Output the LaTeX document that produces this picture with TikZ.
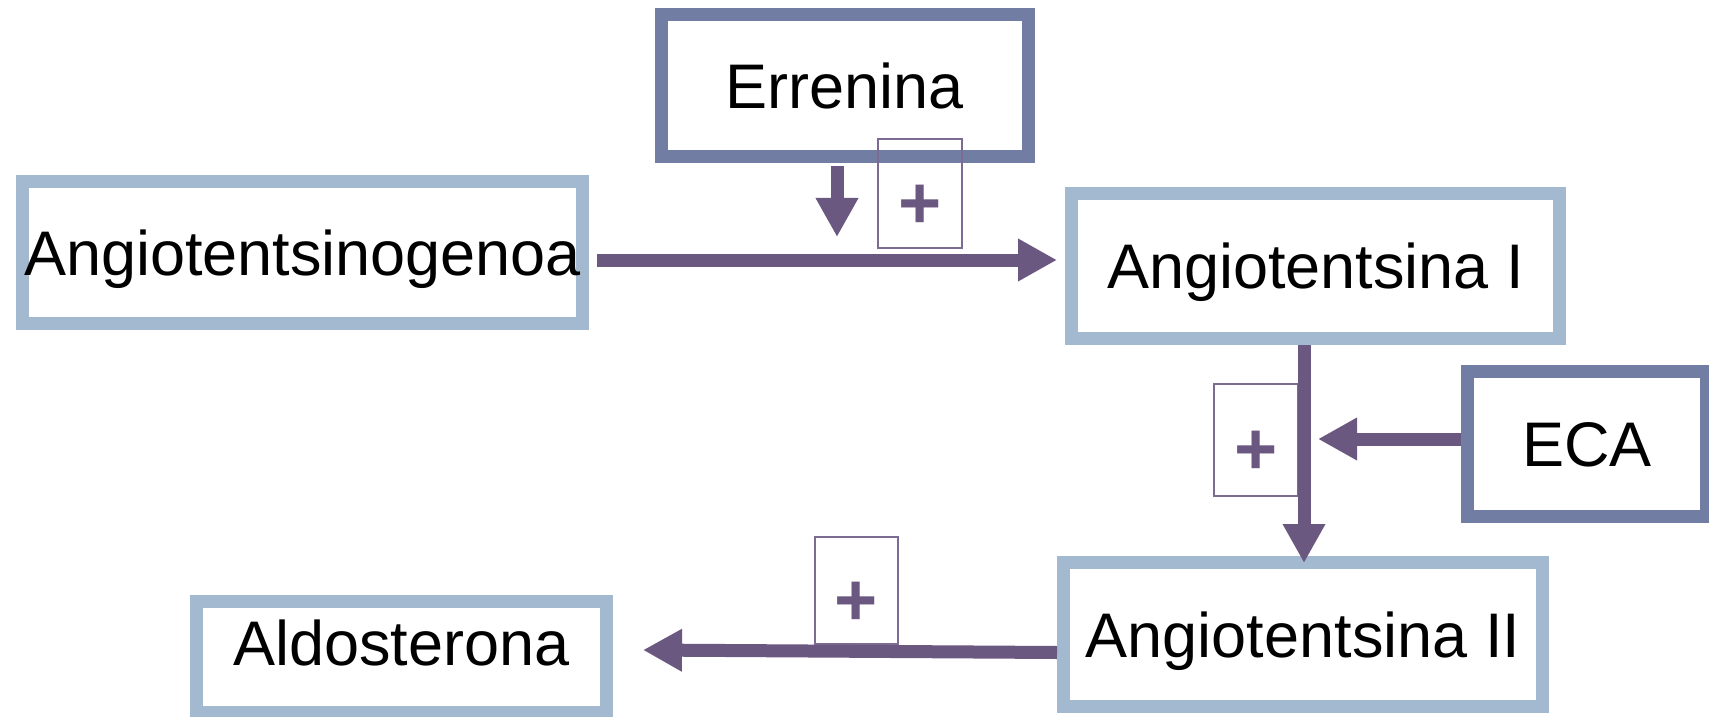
\documentclass[tikz,border=0pt]{standalone}
\usepackage{fontspec}
\setmainfont{Liberation Sans}
\usetikzlibrary{arrows.meta}
\definecolor{boxblue}{HTML}{A2B9CF}
\definecolor{boxslate}{HTML}{727DA3}
\definecolor{flow}{HTML}{6B5880}
\definecolor{plusline}{HTML}{7D6B93}
\begin{document}
\begin{tikzpicture}[x=0.5pt,y=-0.5pt,
  molbox/.style={draw=boxblue, line width=6.5pt, fill=white, inner sep=0pt,
    font=\fontsize{31.5pt}{36pt}\selectfont, text height=22.55pt, text depth=0pt},
  enzbox/.style={molbox, draw=boxslate},
  plusbox/.style={draw=plusline, line width=0.65pt, inner sep=0pt, text=flow,
    font=\bfseries\fontsize{37pt}{40pt}\selectfont, text height=34.9pt, text depth=0pt},
  flowarrow/.style={draw=flow, line width=6.5pt, -{Triangle[length=19.5pt,width=20pt]}},
]
\fill[white] (0,0) rectangle (1709,717);
\useasboundingbox (0,0) rectangle (1709,717);

% molecules and enzymes
\node[molbox, minimum width=280pt, minimum height=71pt] (ag) at (302.5,252.5) {Angiotentsinogenoa};
\node[enzbox, minimum width=183.5pt, minimum height=71pt] (er) at (845,85.5) {Errenina};
\node[molbox, minimum width=244pt, minimum height=72.5pt] (a1) at (1315.5,266) {Angiotentsina I};
\node[enzbox, minimum width=119.5pt, minimum height=72.5pt] (eca) at (1587,444) {ECA};
\node[molbox, minimum width=239.5pt, minimum height=72pt] (a2) at (1303,634.5) {Angiotentsina II};
\node[molbox, minimum width=205pt, minimum height=55.5pt, text depth=14pt] (al) at (401.5,657) {Aldosterona};

% activation marks
\node[plusbox, minimum width=42pt, minimum height=54.5pt] (p1) at (920,193.5) {+};
\node[plusbox, minimum width=42pt, minimum height=56pt] (p2) at (1256,440) {+};
\node[plusbox, minimum width=41.5pt, minimum height=53.5pt] (p3) at (856.5,590.5) {+};

% reaction arrows
\coordinate (m1) at ([shift={(8,7.5)}]ag.east);
\draw[flowarrow] (m1) -- ([xshift=-4pt]m1 -| a1.west);
\draw[flowarrow] ([shift={(-8,3)}]er.south) -- ++(0,71);

\coordinate (v1) at ([xshift=-5.75pt]a1.south);
\draw[flowarrow] (v1) -- ([yshift=-3.5pt]v1 |- a2.north);
\coordinate (e1) at ([yshift=2.5pt]eca.west);
\draw[flowarrow] (e1) -- ([xshift=7pt]v1 |- e1);

\coordinate (b1) at ([yshift=-9pt]a2.west);
\draw[flowarrow] (b1) -- ([shift={(30,-2.5)}]b1 -| al.east);
\end{tikzpicture}
\end{document}
